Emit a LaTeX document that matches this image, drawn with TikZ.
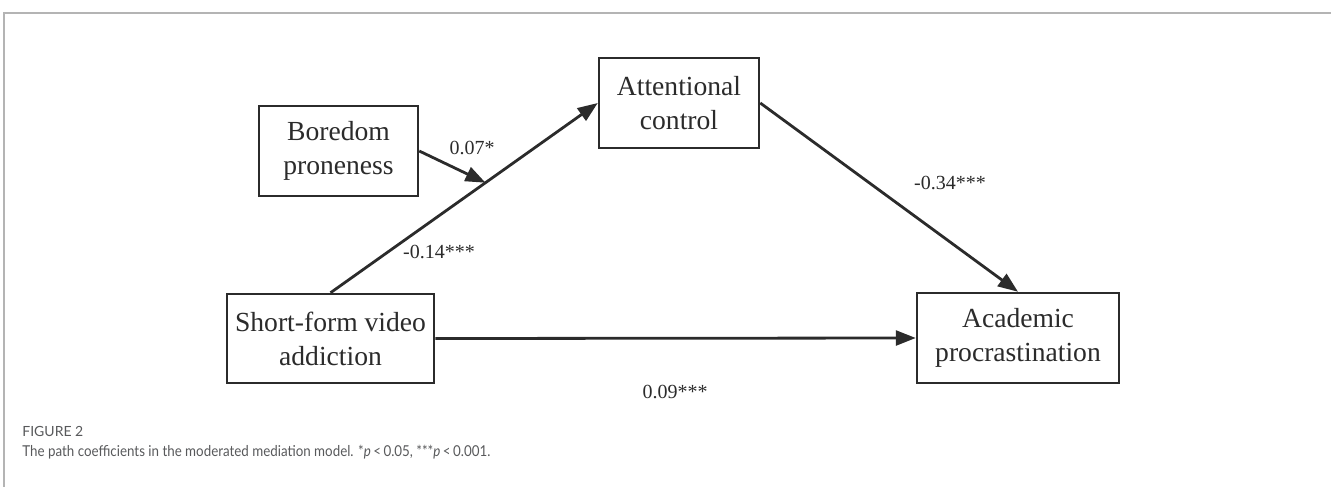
\documentclass[tikz,border=0pt]{standalone}
\usepackage{fontspec}
\setmainfont{Liberation Serif}
\newfontfamily\capfont[FakeStretch=0.89]{Lato}
\newfontfamily\figfont{Lato}
\usetikzlibrary{arrows.meta,calc}
\definecolor{ink}{HTML}{2B2B2B}
\definecolor{capgray}{HTML}{58595B}
\definecolor{framegray}{HTML}{B4B4B4}
\begin{document}
\begin{tikzpicture}[x=0.5pt,y=-0.5pt,
  var/.style={draw=ink,line width=1.25pt,fill=white,align=center,inner sep=0pt,
    font=\fontsize{13.8}{17}\selectfont,text=ink},
  path/.style={draw=ink,line width=1.4pt,-{Triangle[length=10pt,width=7.5pt]}},
  coef/.style={font=\fontsize{10}{12}\selectfont,text=ink,inner sep=0pt}]
\useasboundingbox (0,0) rectangle (1331,487);
\draw[framegray,line width=0.8pt] (1331,13) -- (4,13) -- (4,487);
\node[var,minimum width=79.5pt,minimum height=45pt] (bp) at (338.5,151) {Boredom\\proneness};
\node[var,minimum width=80pt,minimum height=45pt] (ac) at (679,103) {Attentional\\control};
\node[var,minimum width=103.5pt,minimum height=44.5pt] (sf) at (330.5,338.5) {Short-form video\\addiction};
\node[var,minimum width=101pt,minimum height=45pt] (ap) at (1018,338) {Academic\\procrastination};
\coordinate (m) at ($(sf.north)!0.58!(ac.west)$);
\draw[path] (sf.north) -- (ac.west);
\draw[path] (bp.east) -- (m);
\draw[path] (ac.east) -- (ap.north);
\draw[path] (sf.east) -- (ap.west);
\node[coef] (c1) at (472,148) {0.07*};
\node[coef] (c2) at (439,252) {-0.14***};
\node[coef] (c3) at (950,183) {-0.34***};
\node[coef] (c4) at (675,392) {0.09***};
\node[anchor=west,inner sep=0pt,text=capgray,font=\figfont\fontsize{7}{8}\selectfont] (fig) at (22,431) {FIGURE 2};
\node[anchor=west,inner sep=0pt,text=capgray,font=\capfont\fontsize{7.5}{10}\selectfont] (cap) at (22,452) {The path coefficients in the moderated mediation model. *\textit{p}\,<\,0.05, ***\textit{p}\,<\,0.001.};
\end{tikzpicture}
\end{document}
